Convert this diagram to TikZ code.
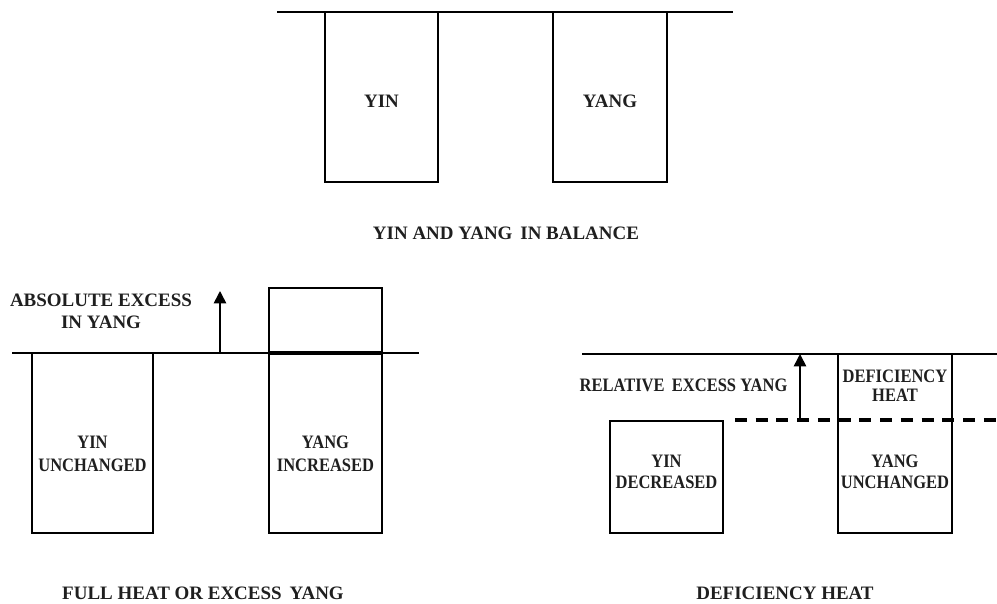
\documentclass[tikz,border=0pt]{standalone}
\usepackage{fontspec}
\setmainfont{Liberation Serif}
\newfontfamily\narrowfont[FakeStretch=0.87]{Liberation Serif}
\usetikzlibrary{arrows.meta,calc}

\begin{document}
\begin{tikzpicture}[x=0.02cm,y=-0.02cm,
  lbl/.style={font=\fontsize{10.8}{12.5}\selectfont\bfseries,align=center,inner sep=0pt,text=black!88},
  inlbl/.style={lbl,font=\fontsize{10.8}{11.8}\selectfont\narrowfont\bfseries},
  base/.style={line width=1pt},
  box/.style={line width=1.2pt},
  up/.style={line width=0.9pt,-{Triangle[length=7pt,width=7pt]}}]
\useasboundingbox (0,0) rectangle (997,604);

% balance
\coordinate (L1) at (277,12); \coordinate (R1) at (733,12);
\draw[base] (L1) -- (R1);
\draw[box] (325,12) rectangle (438,182);
\draw[box] (553,12) rectangle (667,182);
\node[lbl] (yin) at (381.5,101) {YIN};
\node[lbl] (yang) at (610,101) {YANG};
\node[lbl] (bal) at (506,233) {YIN AND YANG\, IN BALANCE};

% full heat
\coordinate (L2) at (12,353); \coordinate (R2) at (419,353);
\draw[base] (L2) -- (R2);
\draw[box] (32,353) rectangle (153,533);
\draw[box] (269,288) rectangle (382,533);
\draw[line width=2pt] (269,353) -- (382,353);
\node[inlbl] (yinu) at (92.5,454) {YIN\\[1.5pt]UNCHANGED};
\node[inlbl] (yangi) at (325.5,454) {YANG\\[1.5pt]INCREASED};
\coordinate (A0) at (220,353); \coordinate (A1) at (220,291);
\draw[up] (A0) -- (A1);
\node[lbl] (abs) at (101,311) {ABSOLUTE EXCESS\\IN YANG};
\node[lbl] (full) at (203,593) {FULL HEAT OR EXCESS\,\ YANG};

% deficiency heat
\coordinate (L3) at (582,354); \coordinate (R3) at (997,354);
\draw[base] (L3) -- (R3);
\coordinate (D0) at (735,420); \coordinate (D1) at (997,420);
\draw[line width=2pt,dash pattern=on 6.8pt off 5pt] (D0) -- (D1);
\draw[box] (610,421) rectangle (723,533);
\draw[box] (838,354) rectangle (952,533);
\node[inlbl] (yind) at (666.5,472) {YIN\\DECREASED};
\node[inlbl] (yangu) at (895,472) {YANG\\UNCHANGED};
\node[inlbl] (defh) at (895,386) {DEFICIENCY\\[-1pt]HEAT};
\coordinate (B0) at (800,420); \coordinate (B1) at (800,354);
\draw[up] (B0) -- (B1);
\node[inlbl] (rel) at (683.5,385) {RELATIVE\, EXCESS YANG};
\node[lbl] (def) at (785,593) {DEFICIENCY HEAT};

\end{tikzpicture}
\end{document}
